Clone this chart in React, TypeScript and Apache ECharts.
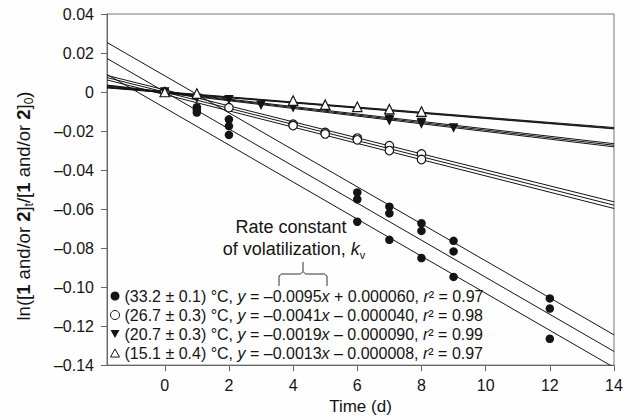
import React, { useEffect, useRef } from 'react';
import * as echarts from 'echarts';

const FONT = 'Liberation Sans, Arial, Helvetica, sans-serif';
const INK = '#141414';

// Legend labels
const seriesNames = ['33.2', '26.7', '20.7', '15.1'];
const tempLabels = ['(33.2 ± 0.1) °C', '(26.7 ± 0.3) °C', '(20.7 ± 0.3) °C', '(15.1 ± 0.4) °C'];
const slopeLabels = ['–0.0095', '–0.0041', '–0.0019', '–0.0013'];
const interceptLabels = ['+ 0.000060', '– 0.000040', '– 0.000090', '– 0.000008'];
const r2Labels = ['0.97', '0.98', '0.99', '0.97'];

// Measured points (time in days, ln ratio)
const t332 = [0, 1, 1, 1, 2, 2, 2, 6, 6, 6, 7, 7, 7, 8, 8, 8, 9, 9, 9, 12, 12, 12];
const v332 = [0, -0.0078, -0.0092, -0.0105, -0.014, -0.0175, -0.022, -0.0515, -0.055, -0.0665, -0.0588, -0.0622, -0.0758, -0.0673, -0.0712, -0.0851, -0.0763, -0.0817, -0.0948, -0.1058, -0.111, -0.1265];
const t267 = [0, 2, 4, 4, 5, 5, 6, 6, 7, 7, 8, 8];
const v267 = [0, -0.008, -0.0165, -0.0172, -0.0207, -0.0215, -0.0236, -0.0245, -0.0275, -0.03, -0.0317, -0.0346];
const t207 = [0, 1, 2, 3, 4, 7, 7, 8, 8, 9];
const v207 = [0, -0.0032, -0.004, -0.0068, -0.008, -0.0139, -0.0147, -0.0156, -0.0164, -0.0185];
const t151 = [0, 1, 4, 5, 6, 7, 8];
const v151 = [0, -0.0008, -0.0044, -0.0065, -0.0076, -0.0088, -0.01];

// Replicate regression lines: value at left end and at right end of the axis
const fitX = [-1.8, 14];
const fit332Start = [0.0254, 0.0172, 0.009];
const fit332End = [-0.1245, -0.133, -0.1412];
const fit267Start = [0.0085, 0.0074, 0.0062];
const fit267End = [-0.0563, -0.058, -0.0597];
const fit207Start = [0.0036, 0.0033, 0.003];
const fit207End = [-0.0265, -0.0273, -0.0281];
const fit151Start = [0.0025, 0.0023, 0.0021];
const fit151End = [-0.0182, -0.0186, -0.0189];

const xTicks = [0, 2, 4, 6, 8, 10, 12, 14];

function zip(xs: number[], ys: number[]) {
  return xs.map((x, i) => [x, ys[i]]);
}

function fitSeries(starts: number[], ends: number[]) {
  return starts.map((s, i) => ({
    type: 'line',
    data: [[fitX[0], s], [fitX[1], ends[i]]],
    symbol: 'none',
    silent: true,
    z: 1,
    lineStyle: { color: INK, width: 1 },
  }));
}

export default function App() {
  const ref = useRef<HTMLDivElement>(null);
  useEffect(() => {
    if (!ref.current) return;
    const chart = echarts.init(ref.current, null, { renderer: 'svg' });
    const legendText: Record<string, string> = {};
    seriesNames.forEach((n, i) => {
      legendText[n] = `{n|${tempLabels[i]}, }{i|y}{n| = ${slopeLabels[i]}}{i|x}{n| ${interceptLabels[i]}, }{i|r}{n|² = ${r2Labels[i]}}`;
    });
    const baseText = { fontFamily: FONT, color: INK };
    chart.setOption({
      animation: false,
      backgroundColor: '#fefefe',
      grid: { left: 107, right: 24, top: 14, bottom: 51, show: true, borderColor: '#777', borderWidth: 1 },
      xAxis: {
        type: 'value',
        min: -1.8,
        max: 14,
        name: 'Time (d)',
        nameLocation: 'middle',
        nameGap: 31,
        nameTextStyle: { ...baseText, fontSize: 17 },
        axisLine: { onZero: false, lineStyle: { color: '#666', width: 1 } },
        axisTick: { show: true, inside: false, length: 6, customValues: xTicks, lineStyle: { color: '#666' } },
        axisLabel: { ...baseText, fontSize: 16, margin: 12, customValues: xTicks, formatter: (v: number) => String(v) },
        splitLine: { show: false },
      },
      yAxis: {
        type: 'value',
        min: -0.14,
        max: 0.04,
        interval: 0.02,
        axisLine: { show: true, onZero: false, lineStyle: { color: '#666', width: 1 } },
        axisTick: { show: true, inside: false, length: 6, lineStyle: { color: '#666' } },
        axisLabel: {
          ...baseText,
          fontSize: 16,
          margin: 13,
          formatter: (v: number) => (Math.abs(v) < 1e-9 ? '0' : v < 0 ? '–' + Math.abs(v).toFixed(2) : v.toFixed(2)),
        },
        splitLine: { show: false },
      },
      legend: {
        orient: 'vertical',
        left: 110,
        top: 288,
        padding: 0,
        itemGap: 3,
        itemWidth: 9,
        itemHeight: 9,
        itemStyle: { borderWidth: 1, opacity: 1 },
        data: [
          { name: '33.2', icon: 'circle' },
          { name: '26.7', icon: 'circle' },
          { name: '20.7', icon: 'path://M0,0L10,0L5,9Z' },
          { name: '15.1', icon: 'path://M5,0L10,9L0,9Z' },
        ],
        formatter: (name: string) => legendText[name],
        textStyle: {
          ...baseText,
          fontSize: 16,
          rich: {
            n: { fontFamily: FONT, fontSize: 16, color: INK, lineHeight: 16 },
            i: { fontFamily: FONT, fontSize: 16, color: INK, fontStyle: 'italic', lineHeight: 16 },
          },
        },
      },
      graphic: [
        {
          type: 'text',
          x: 23,
          y: 206,
          rotation: Math.PI / 2,
          style: {
            text: '{n|ln([}{b|1}{n| and/or }{b|2}{n|]}{s|t}{n|/[}{b|1}{n| and/or }{b|2}{n|]}{s|0}{n|)}',
            align: 'center',
            verticalAlign: 'middle',
            rich: {
              n: { fontFamily: FONT, fontSize: 18.5, fill: INK, lineHeight: 24 },
              b: { fontFamily: FONT, fontSize: 18.5, fill: INK, fontWeight: 'bold', lineHeight: 24 },
              s: { fontFamily: FONT, fontSize: 12, fill: INK, lineHeight: 24, verticalAlign: 'bottom' },
            },
          },
        },
        {
          type: 'text',
          x: 291,
          y: 227,
          style: { text: 'Rate constant', fontFamily: FONT, fontSize: 18, fill: INK, align: 'center', verticalAlign: 'middle' },
        },
        {
          type: 'text',
          x: 294,
          y: 249,
          style: {
            text: '{n|of volatilization, }{i|k}{s|v}',
            align: 'center',
            verticalAlign: 'middle',
            rich: {
              n: { fontFamily: FONT, fontSize: 18, fill: INK, lineHeight: 22 },
              i: { fontFamily: FONT, fontSize: 18, fill: INK, fontStyle: 'italic', lineHeight: 22 },
              s: { fontFamily: FONT, fontSize: 11, fill: INK, lineHeight: 22, verticalAlign: 'bottom' },
            },
          },
        },
        {
          type: 'polyline',
          shape: { points: [[279, 286], [279, 276], [281.5, 274], [300.5, 274], [303, 271.5], [303, 262]] },
          style: { stroke: '#333', lineWidth: 1, fill: null },
        },
        {
          type: 'polyline',
          shape: { points: [[303, 271.5], [305.5, 274], [324.5, 274], [327, 276], [327, 286]] },
          style: { stroke: '#333', lineWidth: 1, fill: null },
        },
      ],
      series: [
        ...fitSeries(fit332Start, fit332End),
        ...fitSeries(fit267Start, fit267End),
        ...fitSeries(fit207Start, fit207End),
        ...fitSeries(fit151Start, fit151End),
        {
          name: '33.2',
          type: 'scatter',
          data: zip(t332, v332),
          symbol: 'circle',
          symbolSize: 8.5,
          z: 5,
          itemStyle: { color: INK, opacity: 1 },
        },
        {
          name: '26.7',
          type: 'scatter',
          data: zip(t267, v267),
          symbol: 'circle',
          symbolSize: 8.5,
          z: 5,
          itemStyle: { color: '#ffffff', borderColor: INK, borderWidth: 1.2, opacity: 1 },
        },
        {
          name: '20.7',
          type: 'scatter',
          data: zip(t207, v207),
          symbol: 'triangle',
          symbolRotate: 180,
          symbolSize: 9.5,
          z: 5,
          itemStyle: { color: INK, opacity: 1 },
        },
        {
          name: '15.1',
          type: 'scatter',
          data: zip(t151, v151),
          symbol: 'triangle',
          symbolSize: 9.5,
          z: 5,
          itemStyle: { color: '#ffffff', borderColor: INK, borderWidth: 1.2, opacity: 1 },
        },
      ],
    });
    return () => chart.dispose();
  }, []);
  return <div ref={ref} style={{ position: 'fixed', left: 0, top: 0, width: 638, height: 420 }} />;
}
